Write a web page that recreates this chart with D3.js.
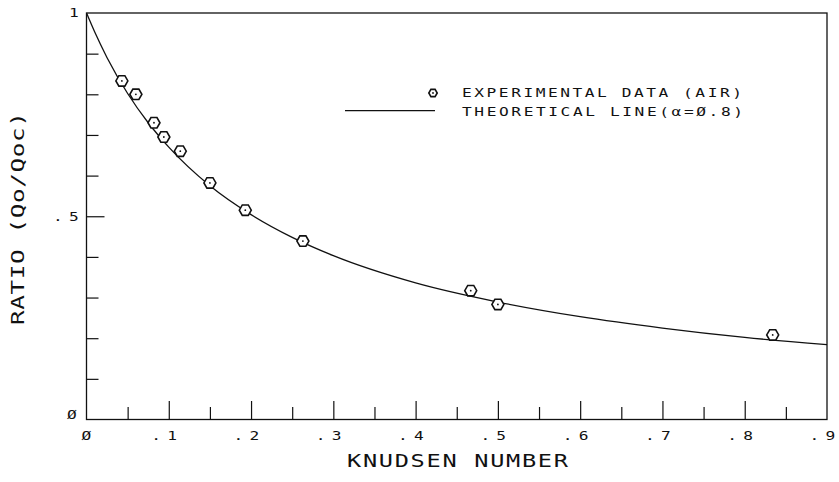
<!DOCTYPE html>
<html>
<head>
<meta charset="utf-8">
<script src="https://cdn.jsdelivr.net/npm/d3@7/dist/d3.min.js"></script>
<style>
  html, body { margin: 0; padding: 0; background: #fff; }
  svg { display: block; }
  text { font-family: "DejaVu Sans Mono", "Liberation Mono", monospace; fill: #111; }
</style>
</head>
<body>
<svg id="chart" width="839" height="482"></svg>
<script>
// Measured heat-flux ratio against Knudsen number (air)
const knudsen = [0.043, 0.060, 0.082, 0.094, 0.114, 0.150, 0.193, 0.263, 0.467, 0.500, 0.834];
const ratio   = [0.833, 0.800, 0.730, 0.695, 0.660, 0.582, 0.515, 0.439, 0.317, 0.283, 0.208];

// Theoretical line, accommodation coefficient 0.8
const lineKnudsen = [0, 0.01, 0.025, 0.05, 0.075, 0.1, 0.15, 0.2, 0.25, 0.3, 0.4, 0.5, 0.6, 0.7, 0.8, 0.9];
const lineRatio   = [1, 0.953, 0.890, 0.802, 0.730, 0.670, 0.575, 0.504, 0.448, 0.403, 0.336, 0.289, 0.253, 0.225, 0.202, 0.184];

// Axis ticks and labels
const xMajorTicks = [0.1, 0.2, 0.3, 0.4, 0.5, 0.6, 0.7, 0.8];
const xMinorTicks = [0.05, 0.15, 0.25, 0.35, 0.45, 0.55, 0.65, 0.75, 0.85];
const xTickLabels = [".1", ".2", ".3", ".4", ".5", ".6", ".7", ".8", ".9"];
const xTickLabelValues = [0.1, 0.2, 0.3, 0.4, 0.5, 0.6, 0.7, 0.8, 0.9];
const yMinorTicks = [0.1, 0.2, 0.3, 0.4, 0.6, 0.7, 0.8, 0.9];
const yMajorTicks = [0.5];

const svg = d3.select("#chart");
const x = d3.scaleLinear().domain([0, 0.9]).range([86.5, 827]);
const y = d3.scaleLinear().domain([0, 1]).range([419.5, 13]);

const ink = "#111";
const SX = 1.35; // wide plotter lettering: stretch glyphs horizontally

function label(parent, o) {
  const rot = o.rotate ? ` rotate(${o.rotate})` : "";
  const t = parent.append("text")
    .attr("transform", `translate(${o.x},${o.y})${rot} scale(${SX},1)`)
    .attr("font-size", o.size)
    .attr("text-anchor", o.anchor || "start");
  if (o.gap !== undefined) {
    // decimal labels: dot, then the digit set a little apart
    t.append("tspan").text(o.text.slice(0, 1));
    t.append("tspan").attr("dx", o.gap).text(o.text.slice(1));
  } else {
    t.text(o.text);
  }
  if (o.len) t.attr("textLength", o.len / SX).attr("lengthAdjust", "spacing");
  return t;
}

// Frame
svg.append("rect")
  .attr("x", x(0)).attr("y", y(1))
  .attr("width", x(0.9) - x(0)).attr("height", y(0) - y(1))
  .attr("fill", "none").attr("stroke", ink).attr("stroke-width", 1.3);

// Inward ticks on the bottom axis
function bottomTicks(values, len) {
  const g = svg.append("g").attr("transform", `translate(0,${y(0)})`)
    .call(d3.axisBottom(x).tickValues(values).tickSize(-len).tickFormat(""));
  g.select(".domain").remove();
  g.selectAll(".tick line").attr("stroke", ink).attr("stroke-width", 1.2);
}
bottomTicks(xMajorTicks, 18.5);
bottomTicks(xMinorTicks, 12.5);

// Inward ticks on the left axis
function leftTicks(values, len) {
  const g = svg.append("g").attr("transform", `translate(${x(0)},0)`)
    .call(d3.axisLeft(y).tickValues(values).tickSize(-len).tickFormat(""));
  g.select(".domain").remove();
  g.selectAll(".tick line").attr("stroke", ink).attr("stroke-width", 1.2);
}
leftTicks(yMinorTicks, 12);
leftTicks(yMajorTicks, 18);

// X tick labels
label(svg, { x: x(0), y: 439.5, size: 12, anchor: "middle", text: "Ø" });
xTickLabels.forEach((d, i) => {
  label(svg, { x: x(xTickLabelValues[i]) - 17.5, y: 439.5, size: 12, gap: 4.6, text: d });
});

// Y tick labels
label(svg, { x: 74, y: y(1) + 4.3, size: 12, anchor: "middle", text: "1" });
label(svg, { x: 53, y: y(0.5) + 4.3, size: 12, gap: 4.6, text: ".5" });
label(svg, { x: 72, y: y(0) - 0.5, size: 12, anchor: "middle", text: "Ø" });

// Axis titles
label(svg, { x: 347, y: 467, size: 17.5, len: 221, text: "KNUDSEN NUMBER" });
label(svg, { x: 24, y: 325, rotate: -90, size: 18, len: 213, text: "RATIO (Qo/Qoc)" });

// Theoretical line
const line = d3.line()
  .x((d, i) => x(lineKnudsen[i]))
  .y((d, i) => y(lineRatio[i]))
  .curve(d3.curveMonotoneX);
svg.append("path")
  .datum(lineRatio)
  .attr("d", line)
  .attr("fill", "none").attr("stroke", ink).attr("stroke-width", 1.3);

// Hexagon marker with a centre dot
function hexPath(r) {
  const pts = d3.range(6).map(k => {
    const a = Math.PI / 3 * k;
    return [r * Math.cos(a), r * Math.sin(a)];
  });
  return "M" + pts.map(p => p.join(",")).join("L") + "Z";
}
function marker(g, r) {
  g.append("path").attr("d", hexPath(r))
    .attr("fill", "#fff").attr("stroke", ink).attr("stroke-width", 1.6);
  g.append("circle").attr("r", 0.9).attr("fill", ink);
}

svg.selectAll(".pt").data(knudsen).enter().append("g")
  .attr("class", "pt")
  .attr("transform", (d, i) => `translate(${x(d)},${y(ratio[i])})`)
  .each(function () { marker(d3.select(this), 6); });

// Legend
const lg = svg.append("g");
lg.append("g").attr("transform", "translate(433,93)")
  .call(g => marker(g, 4.2));
lg.append("line")
  .attr("x1", 345).attr("x2", 435).attr("y1", 110.7).attr("y2", 110.7)
  .attr("stroke", ink).attr("stroke-width", 1.2);
label(lg, { x: 462, y: 97, size: 12, len: 280, text: "EXPERIMENTAL DATA (AIR)" });
label(lg, { x: 462, y: 116, size: 12, len: 281, text: "THEORETICAL LINE(α=Ø.8)" });
</script>
</body>
</html>
